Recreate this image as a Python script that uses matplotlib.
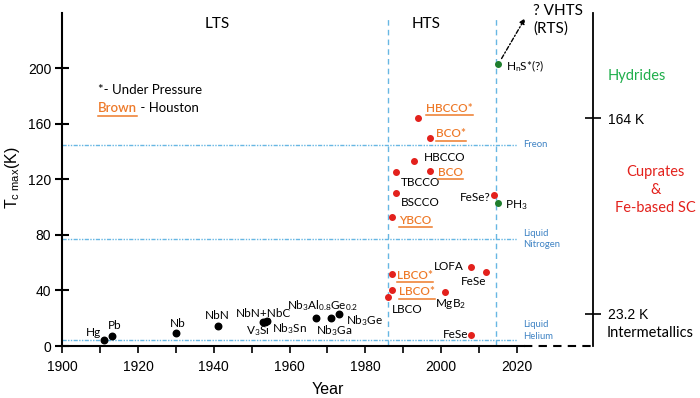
import matplotlib
matplotlib.use("Agg")
import matplotlib.pyplot as plt
from matplotlib.lines import Line2D

plt.rcParams['font.family'] = ['Lato', 'DejaVu Sans']
plt.rcParams['mathtext.fontset'] = 'custom'
plt.rcParams['mathtext.rm'] = 'Lato'
plt.rcParams['mathtext.it'] = 'Lato:italic'
plt.rcParams['mathtext.bf'] = 'Lato:bold'
plt.rcParams['mathtext.default'] = 'regular'

# ---------------- data ----------------
lts_names = ['Hg', 'Pb', 'Nb', 'NbN', 'NbN+NbC', 'V$_3$Si', 'Nb$_3$Sn',
             'Nb$_3$Al$_{0.8}$Ge$_{0.2}$', 'Nb$_3$Ga', 'Nb$_3$Ge']
lts_years = [1911, 1913, 1930, 1941, 1953.5, 1953, 1954, 1967, 1971, 1973]
lts_tc = [4.2, 7.2, 9.2, 14.6, 17.5, 17.3, 17.8, 20, 20, 23.2]

hts_names = ['LBCO', 'LBCO*', 'LBCO*', 'YBCO', 'BSCCO', 'TBCCO', 'HBCCO', 'HBCCO*',
             'BCO', 'BCO*', 'MgB$_2$', 'LOFA', 'FeSe', 'FeSe', 'FeSe?']
hts_years = [1986, 1987, 1987, 1987, 1988, 1988, 1993, 1994,
             1997, 1997, 2001, 2008, 2008, 2012, 2014]
hts_tc = [35, 40, 52, 93, 110, 125, 133, 164,
          126, 150, 39, 57, 8, 53, 109]
hts_houston = [False, True, True, True, False, False, False, True,
               True, True, False, False, False, False, False]

hyd_names = ['PH$_3$', 'H$_n$S*(?)']
hyd_years = [2015, 2015]
hyd_tc = [103, 203]

ref_names = ['Freon', 'Liquid\nNitrogen', 'Liquid\nHelium']
ref_temps = [145, 77, 4.2]

era_bounds = [1986, 2014.5]
era_names = ['LTS', 'HTS']
era_centers = [1941, 1996]

class_ticks = [23.2, 164]
class_tick_labels = ['23.2 K', '164 K']

yticks = [0, 40, 80, 120, 160, 200]
xticks = [1900, 1920, 1940, 1960, 1980, 2000, 2020]

# label offsets (pixels) and alignments -- styling
lts_off = [(-3, 8, 'right'), (-4, 11, 'left'), (2, 10, 'center'), (0, 10, 'center'),
           (-1, 8, 'center'), (-5, -9, 'center'), (5, -7, 'left'),
           (7, 12.5, 'center'), (3, -12.5, 'center'), (7.5, -7, 'left')]
hts_off = [(3.5, -12, 'left'), (7.5, -1.5, 'left'), (5.5, -1.5, 'left'), (7.5, -3.3, 'left'),
           (5.5, -9.5, 'left'), (5.5, -10, 'left'), (9.5, 3.3, 'left'), (8, 10, 'left'),
           (8.5, -1, 'left'), (6.7, 3.7, 'left'), (6, -11.7, 'center'), (-7.5, 0.7, 'right'),
           (-3, 0.3, 'right'), (0, -9, 'right'), (-3.6, -2.4, 'right')]
hyd_off = [(7.5, -1.7, 'left'), (8.5, -2, 'left')]
ref_dy = [0, 0, 10]

RED = '#e3211c'
ORANGE = '#ee7a2a'
DKGREEN = '#1e7d2c'
LBLUE = '#67b7e3'
TBLUE = '#3f83c4'

fig = plt.figure(figsize=(7.0, 3.98), dpi=100)
L, R, B, T = 62.3 / 700, 524.3 / 700, 1 - 346 / 398, 1 - 12.7 / 398
ax = fig.add_axes([L, B, R - L, T - B])
ax.set_xlim(1900, 2022)
ax.set_ylim(0, 240)

for s in ['top', 'right']:
    ax.spines[s].set_visible(False)
for s in ['left', 'bottom']:
    ax.spines[s].set_linewidth(1.5)

ax.set_xticks(xticks)
ax.set_xticks(range(1910, 2021, 20), minor=True)
ax.set_yticks(yticks)
ax.tick_params(axis='y', direction='inout', length=10, width=1.5, pad=3, labelsize=10)
ax.tick_params(axis='x', which='both', direction='out', length=5, width=1.2, pad=5, labelsize=10)
for lab in ax.get_xticklabels() + ax.get_yticklabels():
    lab.set_fontfamily('Liberation Sans')

# reference temperature lines
for name, tv, dy in zip(ref_names, ref_temps, ref_dy):
    ax.plot([1900, 2020], [tv, tv], color=LBLUE, lw=1, linestyle=(0, (3, 1, 1, 1, 1, 1)))
    ax.annotate(name, xy=(2020, tv), xytext=(6, dy), textcoords='offset pixels',
                ha='left', va='center', fontsize=6.8, color=TBLUE, linespacing=1.4,
                annotation_clip=False)

# era boundaries
for xb in era_bounds:
    ax.plot([xb, xb], [0, 237], color=LBLUE, lw=1, linestyle=(0, (4, 3)))
for nm, xc in zip(era_names, era_centers):
    ax.text(xc, 232, nm, ha='center', va='center', fontsize=11)

# points
ax.scatter(lts_years, lts_tc, s=22, color='black', zorder=3, clip_on=False)
ax.scatter(hts_years, hts_tc, s=16, color=RED, zorder=3, clip_on=False)
ax.scatter(hyd_years, hyd_tc, s=16, color=DKGREEN, zorder=3, clip_on=False)

underline = []
for n, x, y, (dx, dy, ha) in zip(lts_names, lts_years, lts_tc, lts_off):
    ax.annotate(n, xy=(x, y), xytext=(dx, dy), textcoords='offset pixels',
                ha=ha, va='center', fontsize=8.5)
for n, x, y, hou, (dx, dy, ha) in zip(hts_names, hts_years, hts_tc, hts_houston, hts_off):
    t = ax.annotate(n, xy=(x, y), xytext=(dx, dy), textcoords='offset pixels',
                    ha=ha, va='center', fontsize=8.5,
                    color=ORANGE if hou else 'black',
                    fontweight='semibold' if hou else 'normal')
    if hou:
        underline.append(t)
for n, x, y, (dx, dy, ha) in zip(hyd_names, hyd_years, hyd_tc, hyd_off):
    ax.annotate(n, xy=(x, y), xytext=(dx, dy), textcoords='offset pixels',
                ha=ha, va='center', fontsize=8.5)

# arrow to VHTS
ax.annotate('', xy=(2022.2, 236), xytext=(2016, 207),
            arrowprops=dict(arrowstyle='-|>', color='black', lw=1, linestyle=(0, (3, 1.5, 1, 1.5)),
                            mutation_scale=8, shrinkA=0, shrinkB=0),
            annotation_clip=False)
fig.text(533 / 700, 1 - 20 / 398, '? VHTS\n(RTS)', ha='left', va='center', fontsize=11,
         linespacing=1.25)

# legend text
fig.text(97.7 / 700, 1 - 90 / 398, '*- Under Pressure', ha='left', va='center', fontsize=9.5)
tb = fig.text(97.7 / 700, 1 - 108.5 / 398, 'Brown', ha='left', va='center', fontsize=9.5,
              color=ORANGE, fontweight='semibold')
underline.append(tb)
ax.annotate(' - Houston', xy=(1, 0.5), xycoords=tb, ha='left', va='center', fontsize=9.5)

# right classification axis
ax2 = ax.twinx()
ax2.set_ylim(0, 240)
for s in ['top', 'left', 'bottom']:
    ax2.spines[s].set_visible(False)
ax2.spines['right'].set_position(('axes', (593 - 62.3) / 462.0))
ax2.spines['right'].set_linewidth(1.3)
ax2.set_yticks(class_ticks)
ax2.set_yticklabels(class_tick_labels)
ax2.tick_params(axis='y', direction='inout', length=11, width=1.2, pad=5, labelsize=10)
for lab in ax2.get_yticklabels():
    lab.set_fontfamily('Liberation Sans')
ax.plot([2022, 2040.1], [0, 0], color='black', lw=1.5, linestyle=(0, (4, 3)), clip_on=False)

fig.text(636.7 / 700, 1 - 76 / 398, 'Hydrides', ha='center', va='center', fontsize=10.5,
         color='#1fae4b')
fig.text(655.7 / 700, 1 - 190 / 398, 'Cuprates\n&\nFe-based SC', ha='center', va='center',
         fontsize=10.5, color=RED, linespacing=1.35)
fig.text(607 / 700, 1 - 333 / 398, 'Intermetallics', ha='left', va='center', fontsize=10.5)

fig.text(327.5 / 700, 1 - 389 / 398, 'Year', ha='center', va='center', fontsize=11.5,
         fontfamily='Liberation Sans')
fig.text(12 / 700, 1 - 178 / 398, r'T$_{c\ max}$(K)', ha='center', va='center', rotation=90,
         fontsize=11.5, fontfamily='Liberation Sans')

# underlines
fig.canvas.draw()
rend = fig.canvas.get_renderer()
for t in underline:
    bb = t.get_window_extent(rend)
    y0 = bb.y0 - 1.5
    fig.add_artist(Line2D([bb.x0 / 700, bb.x1 / 700], [y0 / 398, y0 / 398],
                          color=ORANGE, lw=1.1, transform=fig.transFigure))

fig.savefig('out.png', dpi=100)
